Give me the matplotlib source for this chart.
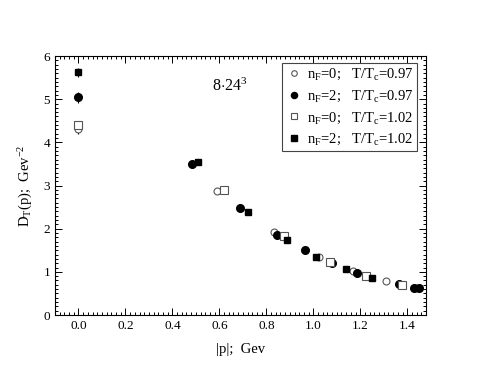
import numpy as np
from matplotlib import pyplot as plt
from matplotlib.lines import Line2D
from matplotlib.ticker import MultipleLocator

plt.rcParams["font.family"] = ["Liberation Serif", "DejaVu Serif"]
plt.rcParams["mathtext.fontset"] = "custom"
plt.rcParams["mathtext.rm"] = "Liberation Serif"
plt.rcParams["mathtext.it"] = "Liberation Serif"

# n_F=0, T/Tc=0.97 (open circles)
p_a = [0.0, 0.588, 0.833, 1.023, 1.168, 1.309]
d_a = [4.30, 2.87, 1.92, 1.34, 1.02, 0.79]
e_a = [0.10, 0.03, 0.03, 0.02, 0.02, 0.02]

# n_F=2, T/Tc=0.97 (filled circles)
p_b = [0.0, 0.484, 0.688, 0.845, 0.966, 1.081, 1.187, 1.365, 1.43, 1.45]
d_b = [5.04, 3.50, 2.48, 1.85, 1.51, 1.20, 0.98, 0.71, 0.63, 0.62]
e_b = [0.12, 0.03, 0.03, 0.02, 0.02, 0.02, 0.02, 0.02, 0.02, 0.02]

# n_F=0, T/Tc=1.02 (open squares)
p_c = [0.0, 0.62, 0.876, 1.073, 1.226, 1.379]
d_c = [4.40, 2.90, 1.84, 1.22, 0.90, 0.69]
e_c = [0.08, 0.03, 0.02, 0.02, 0.02, 0.02]

# n_F=2, T/Tc=1.02 (filled squares)
p_d = [0.0, 0.511, 0.724, 0.887, 1.013, 1.138, 1.248, 1.44]
d_d = [5.62, 3.55, 2.38, 1.74, 1.34, 1.07, 0.86, 0.63]
e_d = [0.10, 0.03, 0.02, 0.02, 0.02, 0.02, 0.02, 0.02]

labels = [
    r"n$_\mathregular{F}$=0;   T/T$_\mathregular{c}$=0.97",
    r"n$_\mathregular{F}$=2;   T/T$_\mathregular{c}$=0.97",
    r"n$_\mathregular{F}$=0;   T/T$_\mathregular{c}$=1.02",
    r"n$_\mathregular{F}$=2;   T/T$_\mathregular{c}$=1.02",
]

styles = [
    dict(marker="o", ms=5, mfc="white", mec="#555555", mew=0.8),
    dict(marker="o", ms=5.5, mfc="black", mec="black"),
    dict(marker="s", ms=5.5, mfc="white", mec="#555555", mew=0.8),
    dict(marker="s", ms=5, mfc="black", mec="black"),
]

fig = plt.figure(figsize=(4.8, 3.71), dpi=100)
ax = fig.add_axes([0.1146, 0.1509, 0.7729, 0.6981])

kw = dict(linestyle="none", elinewidth=0.8, capsize=0, ecolor="k")
series = [(p_a, d_a, e_a), (p_b, d_b, e_b), (p_c, d_c, e_c), (p_d, d_d, e_d)]
for (px, dy, err), st in zip(series, styles):
    ax.errorbar(px, dy, yerr=err, **st, **kw)

ax.set_xlim(-0.1, 1.48)
ax.set_ylim(0, 6)
ax.xaxis.set_major_locator(MultipleLocator(0.2))
ax.xaxis.set_minor_locator(MultipleLocator(0.02))
ax.yaxis.set_major_locator(MultipleLocator(1))
ax.yaxis.set_minor_locator(MultipleLocator(0.1))
ax.xaxis.set_major_formatter(plt.FormatStrFormatter("%.1f"))
ax.tick_params(which="both", direction="in", top=True, right=True,
               labelsize=9.5, width=0.7)
ax.tick_params(which="major", length=5)
ax.tick_params(which="minor", length=2.5)
for s in ax.spines.values():
    s.set_linewidth(0.8)

ax.set_xlabel("|p|;  Gev", fontsize=10.5, labelpad=8)
ax.set_ylabel(r"D$_\mathregular{T}$(p);  Gev$^\mathregular{-2}$", fontsize=10.5,
              labelpad=6)

ax.text(0.567, 5.29, r"8$\cdot$24$^{\mathregular{3}}$", fontsize=11.5, va="center")

handles = [Line2D([], [], linestyle="none", **{**st, "ms": st["ms"] * 0.8})
           for st in styles]
leg = ax.legend(handles, labels, loc="upper right", bbox_to_anchor=(0.976, 0.972),
                fontsize=10.5, fancybox=False, framealpha=1, edgecolor="#444444",
                handletextpad=0.3, borderpad=0.25, labelspacing=0.45,
                handlelength=1.2, borderaxespad=0)
leg.get_frame().set_linewidth(0.8)

plt.savefig("out.png", dpi=100)
